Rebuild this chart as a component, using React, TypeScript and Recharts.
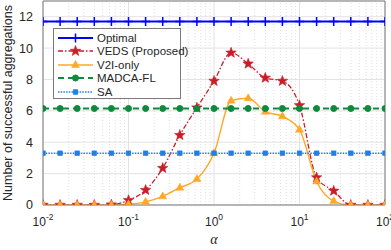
import React from 'react';
import { LineChart, Line, XAxis, YAxis, CartesianGrid, ReferenceLine } from 'recharts';

const alpha = [0.01, 0.01585, 0.02512, 0.03981, 0.0631, 0.1, 0.1585, 0.2512, 0.3981, 0.631, 1, 1.585, 2.512, 3.981, 6.31, 10, 15.85, 25.12, 39.81, 63.1, 100];
const optimal = [11.7, 11.7, 11.7, 11.7, 11.7, 11.7, 11.7, 11.7, 11.7, 11.7, 11.7, 11.7, 11.7, 11.7, 11.7, 11.7, 11.7, 11.7, 11.7, 11.7, 11.7];
const veds = [0, 0, 0, 0, 0.02, 0.3, 0.95, 2.35, 4.45, 6.2, 7.9, 9.7, 9.0, 8.1, 7.9, 6.35, 1.75, 0.9, 0, 0, 0];
const v2i = [0, 0, 0, 0, 0, 0.05, 0.2, 0.55, 1.1, 1.65, 3.3, 6.65, 6.8, 5.95, 5.65, 4.8, 1.5, 0.25, 0, 0, 0];
const madca = [6.15, 6.15, 6.15, 6.15, 6.15, 6.15, 6.15, 6.15, 6.15, 6.15, 6.15, 6.15, 6.15, 6.15, 6.15, 6.15, 6.15, 6.15, 6.15, 6.15, 6.15];
const sa = [3.3, 3.3, 3.3, 3.3, 3.3, 3.3, 3.3, 3.3, 3.3, 3.3, 3.3, 3.3, 3.3, 3.3, 3.3, 3.3, 3.3, 3.3, 3.3, 3.3, 3.3];

const xTicks = [0.01, 0.1, 1, 10, 100];
const xTickExp = ['-2', '-1', '0', '1', '2'];
const yTicks = [0, 2, 4, 6, 8, 10, 12];
const minorTicks = [0.02, 0.03, 0.04, 0.05, 0.06, 0.07, 0.08, 0.09, 0.2, 0.3, 0.4, 0.5, 0.6, 0.7, 0.8, 0.9, 2, 3, 4, 5, 6, 7, 8, 9, 20, 30, 40, 50, 60, 70, 80, 90];

const data = alpha.map((a, i) => ({ a, optimal: optimal[i], veds: veds[i], v2i: v2i[i], madca: madca[i], sa: sa[i] }));

const C = {
  optimal: '#0000ff',
  veds: '#c81e28',
  v2i: '#ffa726',
  madca: '#0d8a3c',
  sa: '#1f7fe8',
};

const starPts = (cx: number, cy: number, R: number, r: number) => {
  const pts: string[] = [];
  for (let i = 0; i < 10; i++) {
    const ang = -Math.PI / 2 + (i * Math.PI) / 5;
    const rad = i % 2 === 0 ? R : r;
    pts.push(`${cx + rad * Math.cos(ang)},${cy + rad * Math.sin(ang)}`);
  }
  return pts.join(' ');
};

type M = 'plus' | 'star' | 'tri' | 'circle' | 'square';
const Marker = ({ kind, cx, cy, color }: { kind: M; cx: number; cy: number; color: string }) => {
  switch (kind) {
    case 'plus':
      return <path d={`M${cx},${cy - 4.5}V${cy + 4.5}M${cx - 4.5},${cy}H${cx + 4.5}`} stroke={color} strokeWidth={1.5} fill="none" />;
    case 'star':
      return <polygon points={starPts(cx, cy, 5.5, 2.3)} fill={color} stroke={color} strokeWidth={0.6} />;
    case 'tri':
      return <polygon points={`${cx},${cy - 4.5} ${cx + 4},${cy + 2.5} ${cx - 4},${cy + 2.5}`} fill={color} stroke={color} strokeWidth={0.5} />;
    case 'circle':
      return <circle cx={cx} cy={cy} r={3} fill={color} stroke={color} />;
    case 'square':
      return <rect x={cx - 2.3} y={cy - 2.3} width={4.6} height={4.6} fill={color} stroke={color} strokeWidth={0.6} />;
  }
};

const mkDot = (kind: M, color: string) => (props: any) => (
  <g key={`d-${kind}-${props.index}`}>
    <Marker kind={kind} cx={props.cx} cy={props.cy} color={color} />
  </g>
);

const series = [
  { key: 'optimal', name: 'Optimal', color: C.optimal, marker: 'plus' as M, dash: undefined as string | undefined, width: 2, type: 'linear' },
  { key: 'veds', name: 'VEDS (Proposed)', color: C.veds, marker: 'star' as M, dash: '5 2 1.5 2', width: 1.3, type: 'monotone' },
  { key: 'v2i', name: 'V2I-only', color: C.v2i, marker: 'tri' as M, dash: undefined, width: 1.4, type: 'monotone' },
  { key: 'madca', name: 'MADCA-FL', color: C.madca, marker: 'circle' as M, dash: '6 4', width: 2, type: 'linear' },
  { key: 'sa', name: 'SA', color: C.sa, marker: 'square' as M, dash: '1.5 1.2', width: 1.6, type: 'linear' },
];

const XTick = (props: any) => {
  const { x, y, payload, index } = props;
  const i = xTicks.indexOf(payload.value);
  return (
    <text x={x} y={y + 13} textAnchor="middle" fontSize={12} fill="#262626" fontFamily="Liberation Sans, Arial, sans-serif" key={`xt-${index}`}>
      10<tspan dy={-6} fontSize={8.5}>{xTickExp[i]}</tspan>
    </text>
  );
};

export default function App() {
  return (
    <div style={{ position: 'absolute', left: 0, top: 0, width: 391, height: 250, background: '#fff' }}>
      <LineChart width={391} height={250} data={data} margin={{ top: 1, right: 6, left: 0, bottom: 0 }}>
        <CartesianGrid stroke="#e3e3e3" strokeWidth={1} verticalFill={[]} />
        {minorTicks.map((m) => (
          <ReferenceLine key={`m-${m}`} x={m} stroke="#e0e0e0" strokeDasharray="1 2" strokeWidth={1} />
        ))}
        <XAxis
          dataKey="a"
          type="number"
          scale="log"
          domain={[0.01, 100]}
          ticks={xTicks}
          tick={<XTick />}
          tickLine={false}
          axisLine={{ stroke: '#7a7a7a' }}
          height={45}
          interval={0}
          allowDataOverflow
          label={{ value: 'α', position: 'insideBottom', offset: 6, fontSize: 14, fontStyle: 'italic', fill: '#262626', fontFamily: 'Liberation Serif, serif' }}
        />
        <YAxis
          type="number"
          domain={[0, 13]}
          ticks={yTicks}
          tickLine={false}
          axisLine={{ stroke: '#7a7a7a' }}
          width={43}
          tick={{ fontSize: 12.5, fill: '#262626', fontFamily: 'Liberation Sans, Arial, sans-serif' }}
          tickMargin={4}
          interval={0}
          allowDataOverflow
          label={{ value: 'Number of successful aggregations', angle: -90, position: 'insideLeft', offset: 8, dy: 0, fontSize: 12.5, fill: '#262626', fontFamily: 'Liberation Sans, Arial, sans-serif', style: { textAnchor: 'middle' } }}
        />
        <ReferenceLine x={100} stroke="#7a7a7a" />
        <ReferenceLine y={13} stroke="#7a7a7a" />
        {series.map((s) => (
          <Line
            key={s.key}
            dataKey={s.key}
            name={s.name}
            type={s.type as any}
            stroke={s.color}
            strokeWidth={s.width}
            strokeDasharray={s.dash}
            dot={mkDot(s.marker, s.color)}
            activeDot={false}
            isAnimationActive={false}
          />
        ))}
      </LineChart>
      <div
        style={{
          position: 'absolute',
          left: 53,
          top: 28,
          width: 128,
          height: 71,
          border: '1px solid #7a7a7a',
          background: '#fff',
          boxSizing: 'border-box',
          paddingTop: 2,
        }}
      >
        {series.map((s) => (
          <div key={s.key} style={{ display: 'flex', alignItems: 'center', height: 13.5 }}>
            <svg width={40} height={12} style={{ marginLeft: 3, flex: 'none' }}>
              <line x1={1} y1={6} x2={36} y2={6} stroke={s.color} strokeWidth={s.width} strokeDasharray={s.dash} />
              <Marker kind={s.marker} cx={18.5} cy={6} color={s.color} />
            </svg>
            <span style={{ fontFamily: 'Liberation Sans, Arial, sans-serif', fontSize: 11.5, color: '#262626', marginLeft: 0, whiteSpace: 'nowrap', lineHeight: '12px' }}>
              {s.name}
            </span>
          </div>
        ))}
      </div>
    </div>
  );
}
